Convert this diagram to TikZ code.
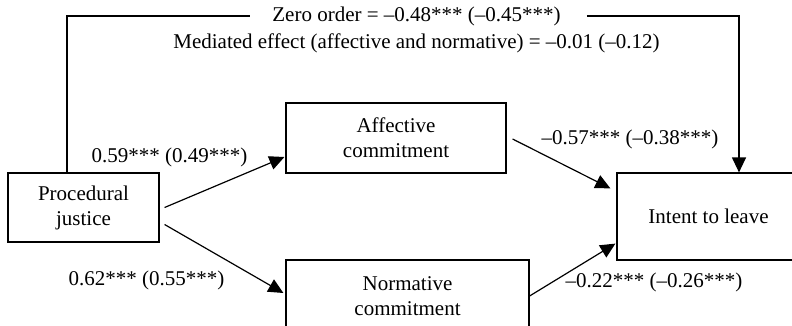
\documentclass[tikz,border=0pt]{standalone}
\usepackage{fontspec}
\setmainfont{Liberation Serif}
\usetikzlibrary{arrows.meta}
\tikzset{
  box/.style={draw, line width=1.2pt, align=center, inner sep=0pt, font=\fontsize{21}{25}\selectfont},
  lbl/.style={inner sep=0pt, font=\fontsize{21}{25}\selectfont},
  conn/.style={line width=1.2pt, -{Triangle[length=15pt,width=14pt]}},
}
\begin{document}
\begin{tikzpicture}[x=1pt,y=-1pt]
\useasboundingbox (0,0) rectangle (792,326);
\clip (0,0) rectangle (792,326);
\node[box, minimum width=151pt, minimum height=69pt] (pj) at (83.5,207.5) {Procedural\\justice};
\node[box, minimum width=220pt, minimum height=70pt] (ac) at (396,138) {Affective\\commitment};
\node[box, minimum width=183pt, minimum height=87pt] (il) at (708.5,216.5) {Intent to leave};
\node[box, minimum width=243pt, minimum height=72pt] (nc) at (407.5,296) {Normative\\commitment};

\node[lbl] (zo) at (416.5,16) {Zero order = –0.48*** (–0.45***)};
\node[lbl] (me) at (416.5,43) {Mediated effect (affective and normative) = –0.01 (–0.12)};

\node[lbl] (l1) at (169.5,157) {0.59*** (0.49***)};
\node[lbl] (l2) at (146.5,280) {0.62*** (0.55***)};
\node[lbl] (l3) at (630,139) {–0.57*** (–0.38***)};
\node[lbl] (l4) at (654,282) {–0.22*** (–0.26***)};

\coordinate (c1) at (67,16);
\coordinate (c2) at (739,16);

\draw[line width=1.2pt] ([shift={(-16.5,0)}]pj.north) -- (c1) -- ([shift={(-22,0)}]zo.west |- c1);
\draw[conn] ([shift={(26,0)}]zo.east |- c2) -- (c2) -- ([shift={(30.5,0)}]il.north);

\draw[conn] ([shift={(5,0)}]pj.east) -- ([shift={(-1,19)}]ac.west);
\draw[conn] ([shift={(5,17)}]pj.east) -- ([shift={(-2,-3)}]nc.west);
\draw[conn] ([shift={(6,1)}]ac.east) -- ([shift={(-6,16)}]il.north west);
\draw[conn] (nc.east) -- ([shift={(-1,-17)}]il.south west);
\end{tikzpicture}
\end{document}
